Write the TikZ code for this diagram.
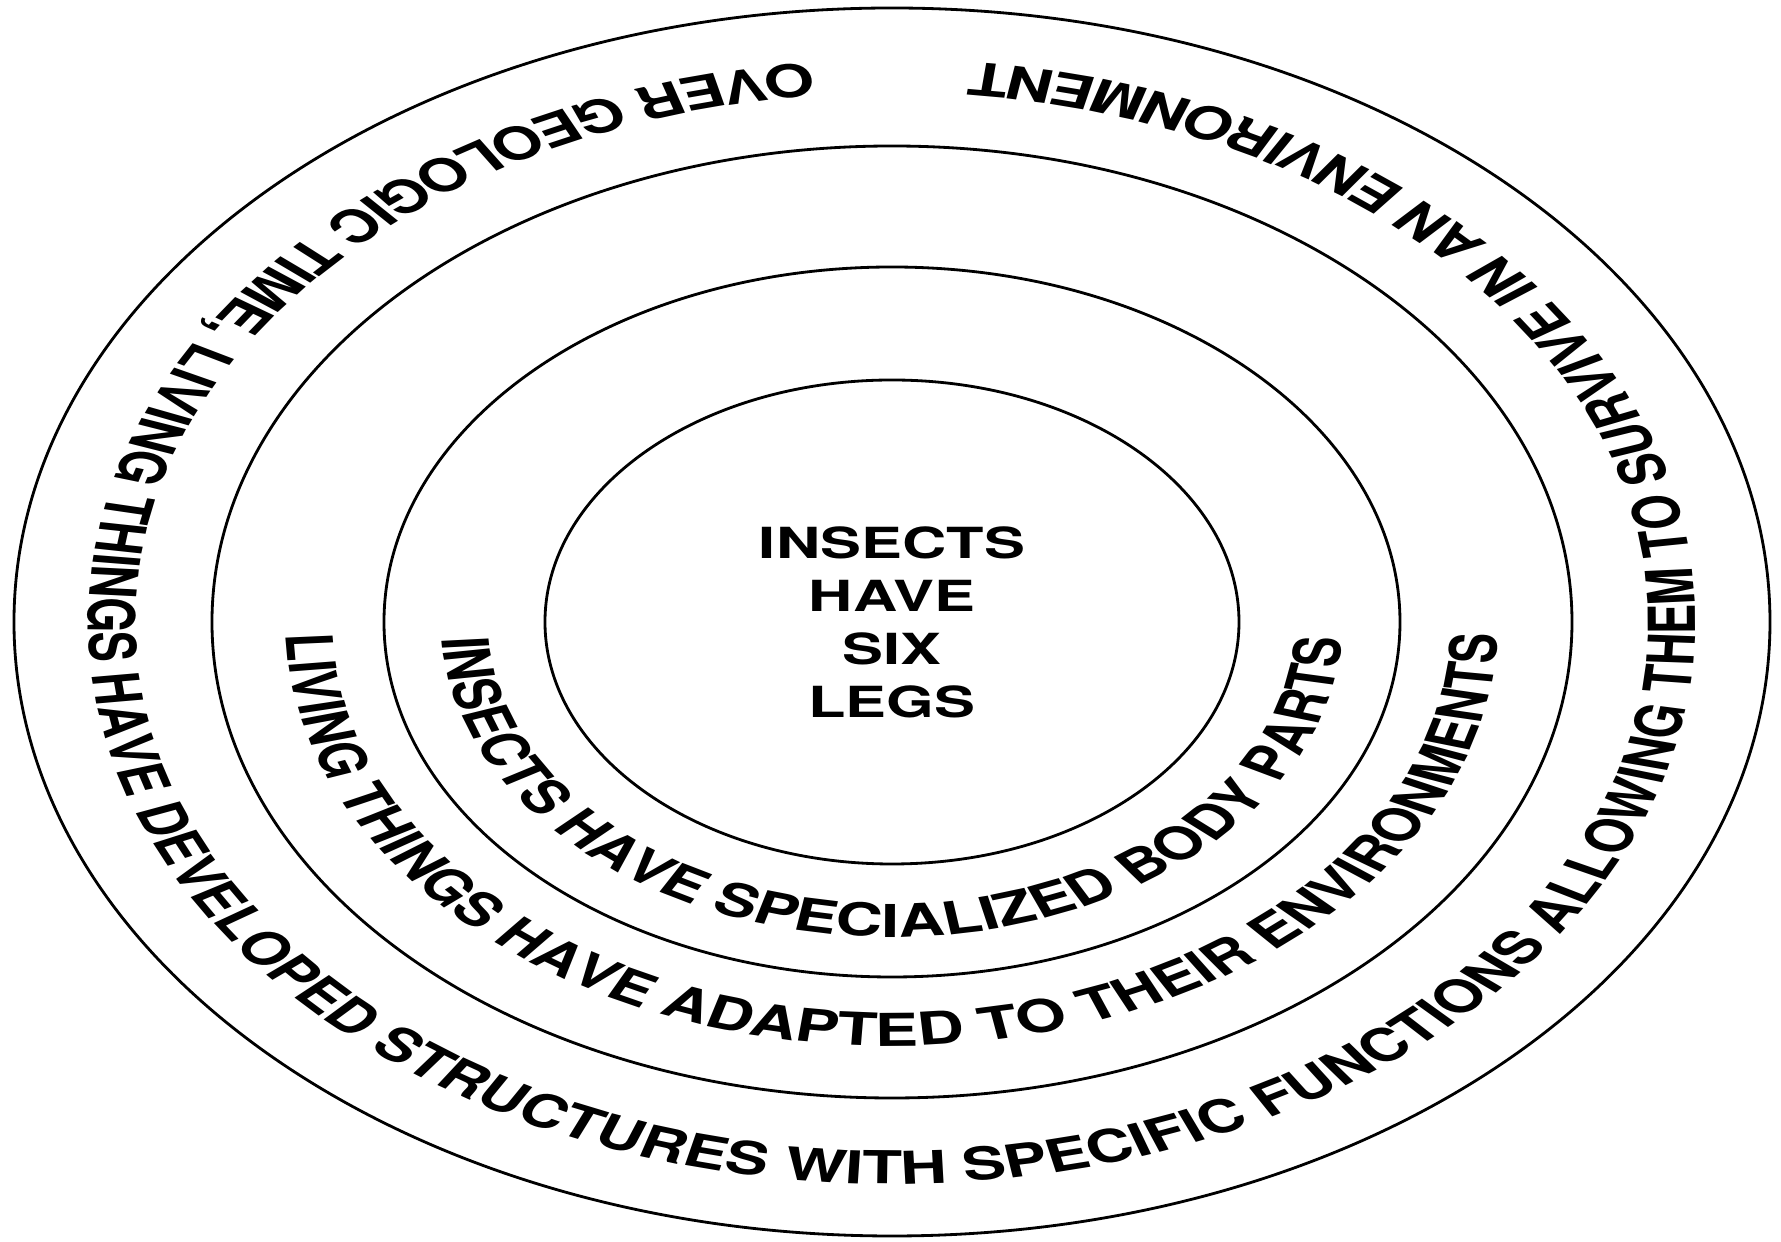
\documentclass[tikz,border=0pt]{standalone}
\usepackage{fontspec}
\setmainfont{TeX Gyre Heros}
\usetikzlibrary{decorations.text}
\newcommand{\ringfont}{\bfseries\fontsize{12.9}{15}\selectfont}
\tikzset{ringline/.style={draw=black,line width=0.8pt},
  ringtext/.style={decorate,decoration={text along path,text align=center}}}

\begin{document}
\begin{tikzpicture}

\useasboundingbox (-8.92,-6.20) rectangle (8.89,6.22);
\coordinate (c) at (0,0);

\path [ringline] (c) ellipse [x radius=8.78,y radius=6.14];
\path [ringline] (c) ellipse [x radius=6.80,y radius=4.76];
\path [ringline] (c) ellipse [x radius=5.08,y radius=3.55];
\path [ringline] (c) ellipse [x radius=3.47,y radius=2.42];

\begin{scope}[transform canvas={xscale=1.43}]
\path (c) node [align=center,font=\bfseries\fontsize{12.2}{15.1}\selectfont] (core) {INSECTS\\HAVE\\SIX\\LEGS};

\path [ringtext,decoration={text={|\ringfont|INSECTS HAVE SPECIALIZED BODY PARTS}}] (150:3.15) arc [start angle=150,end angle=390,radius=3.15];

\path [ringtext,decoration={text={|\ringfont|LIVING THINGS HAVE ADAPTED TO THEIR ENVIRONMENTS}}] (150:4.24) arc [start angle=150,end angle=390,radius=4.24];

\path [ringtext,decoration={text={|\ringfont|OVER GEOLOGIC TIME, LIVING THINGS HAVE DEVELOPED STRUCTURES WITH SPECIFIC FUNCTIONS ALLOWING THEM TO SURVIVE IN AN ENVIRONMENT}}] (90:5.62) arc [start angle=90,end angle=450,radius=5.62];
\end{scope}

\end{tikzpicture}
\end{document}
